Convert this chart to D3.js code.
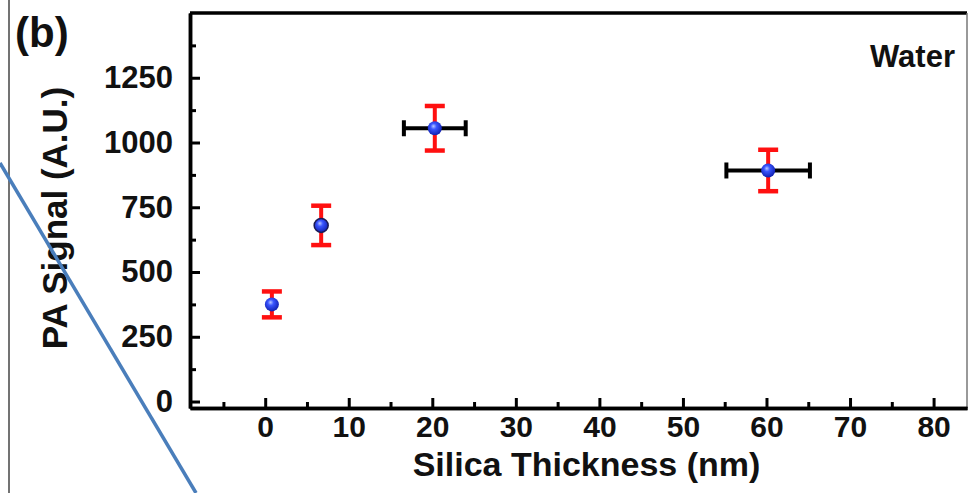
<!DOCTYPE html>
<html>
<head>
<meta charset="utf-8">
<script src="https://cdn.jsdelivr.net/npm/d3@7"></script>
<style>
  html, body { margin: 0; padding: 0; background: #fff; }
  svg { display: block; }
  text { font-family: "Liberation Sans", Arial, sans-serif; font-weight: bold; fill: #111; }
</style>
</head>
<body>
<svg id="chart" width="971" height="493"></svg>
<script>
// Photoacoustic signal vs. silica shell thickness (in water)
const thickness    = [0.8, 6.7, 20.3, 60.2];   // nm
const thicknessErr = [0, 0.6, 3.7, 5.0];        // nm
const signal       = [375, 680, 1055, 892];     // A.U.
const signalErr    = [50, 76, 86, 80];          // A.U.

const xMajorTicks = [0, 10, 20, 30, 40, 50, 60, 70, 80];
const xMinorTicks = [-5, 5, 15, 25, 35, 45, 55, 65, 75];
const yMajorTicks = [0, 250, 500, 750, 1000, 1250];
const yMinorTicks = [125, 375, 625, 875, 1125, 1375];

const svg = d3.select("#chart");
const W = 971, H = 493;
const plot = { left: 190, right: 967, top: 13, bottom: 408 };

const x = d3.scaleLinear().domain([-9, 84]).range([plot.left, plot.right]);
const y = d3.scaleLinear().domain([-25, 1500]).range([plot.bottom, plot.top]);

// thin panel border on the far left
svg.append("line")
  .attr("x1", 9).attr("x2", 9).attr("y1", 0).attr("y2", H)
  .attr("stroke", "#444").attr("stroke-width", 1.5);

// frame: top and right edges
svg.append("line")
  .attr("x1", plot.left).attr("x2", plot.right)
  .attr("y1", plot.top).attr("y2", plot.top)
  .attr("stroke", "#000").attr("stroke-width", 3.5);
svg.append("line")
  .attr("x1", plot.right).attr("x2", plot.right)
  .attr("y1", plot.top).attr("y2", plot.bottom)
  .attr("stroke", "#777").attr("stroke-width", 1.5);

// axes with inward ticks
function styleAxis(g, size) {
  g.select(".domain").attr("stroke", "#000").attr("stroke-width", 3.5);
  g.selectAll(".tick line").attr("stroke", "#000").attr("stroke-width", 3);
  g.selectAll(".tick text").attr("font-size", size).attr("fill", "#111")
    .attr("font-family", "'Liberation Sans', Arial, sans-serif").attr("font-weight", "bold");
}

svg.append("g")
  .attr("transform", `translate(0,${plot.bottom})`)
  .call(d3.axisBottom(x).tickValues(xMinorTicks).tickSize(-6).tickSizeOuter(0).tickFormat(""))
  .call(styleAxis, 30);
svg.append("g")
  .attr("transform", `translate(0,${plot.bottom})`)
  .call(d3.axisBottom(x).tickValues(xMajorTicks).tickSize(-10).tickSizeOuter(0).tickPadding(8).tickFormat(d3.format("d")))
  .call(styleAxis, 30);

svg.append("g")
  .attr("transform", `translate(${plot.left},0)`)
  .call(d3.axisLeft(y).tickValues(yMinorTicks).tickSize(-6).tickSizeOuter(0).tickFormat(""))
  .call(styleAxis, 31);
svg.append("g")
  .attr("transform", `translate(${plot.left},0)`)
  .call(d3.axisLeft(y).tickValues(yMajorTicks).tickSize(-10).tickSizeOuter(0).tickPadding(17).tickFormat(d3.format("d")))
  .call(styleAxis, 31);

// axis titles and annotations
svg.append("text")
  .attr("x", (plot.left + plot.right) / 2 + 8).attr("y", 476)
  .attr("text-anchor", "middle").attr("font-size", 34)
  .text("Silica Thickness (nm)");

svg.append("text")
  .attr("transform", "translate(67,218) rotate(-90)")
  .attr("text-anchor", "middle").attr("font-size", 35)
  .text("PA Signal (A.U.)");

svg.append("text")
  .attr("x", 15).attr("y", 47).attr("font-size", 42)
  .text("(b)");

svg.append("text")
  .attr("x", 955).attr("y", 67).attr("text-anchor", "end").attr("font-size", 31)
  .text("Water");

// data
const data = thickness.map((t, i) => ({ t, te: thicknessErr[i], s: signal[i], se: signalErr[i] }));

// horizontal (thickness) error bars
const xe = svg.append("g").attr("stroke", "#000").attr("stroke-width", 4);
data.filter(d => d.te > 0).forEach(d => {
  xe.append("line").attr("x1", x(d.t - d.te)).attr("x2", x(d.t + d.te))
    .attr("y1", y(d.s)).attr("y2", y(d.s));
  if (d.te > 1) {
    [d.t - d.te, d.t + d.te].forEach(v => {
      xe.append("line").attr("x1", x(v)).attr("x2", x(v))
        .attr("y1", y(d.s) - 8).attr("y2", y(d.s) + 8);
    });
  }
});

// vertical (signal) error bars
const ye = svg.append("g").attr("stroke", "#ff1010").attr("stroke-width", 4);
data.forEach(d => {
  ye.append("line").attr("x1", x(d.t)).attr("x2", x(d.t))
    .attr("y1", y(d.s - d.se)).attr("y2", y(d.s + d.se));
  [d.s - d.se, d.s + d.se].forEach(v => {
    ye.append("line").attr("x1", x(d.t) - 10).attr("x2", x(d.t) + 10)
      .attr("y1", y(v)).attr("y2", y(v)).attr("stroke-width", 4.5);
  });
});

// shaded sphere markers
const defs = svg.append("defs");
const grad = defs.append("radialGradient").attr("id", "ball")
  .attr("cx", "45%").attr("cy", "40%").attr("r", "60%")
  .attr("fx", "40%").attr("fy", "35%");
grad.append("stop").attr("offset", "0%").attr("stop-color", "#b9c8ff");
grad.append("stop").attr("offset", "35%").attr("stop-color", "#3a55ff");
grad.append("stop").attr("offset", "100%").attr("stop-color", "#1020b0");

svg.append("g").selectAll("circle").data(data).join("circle")
  .attr("cx", d => x(d.t)).attr("cy", d => y(d.s)).attr("r", 7)
  .attr("fill", "url(#ball)")
  .attr("stroke", (d, i) => i === 1 ? "#1a1a55" : "none").attr("stroke-width", 1.5);

// diagonal blue callout line across the left edge
svg.append("line")
  .attr("x1", 0).attr("y1", 163).attr("x2", 196).attr("y2", H)
  .attr("stroke", "#4a7ebb").attr("stroke-width", 3.5);
</script>
</body>
</html>
